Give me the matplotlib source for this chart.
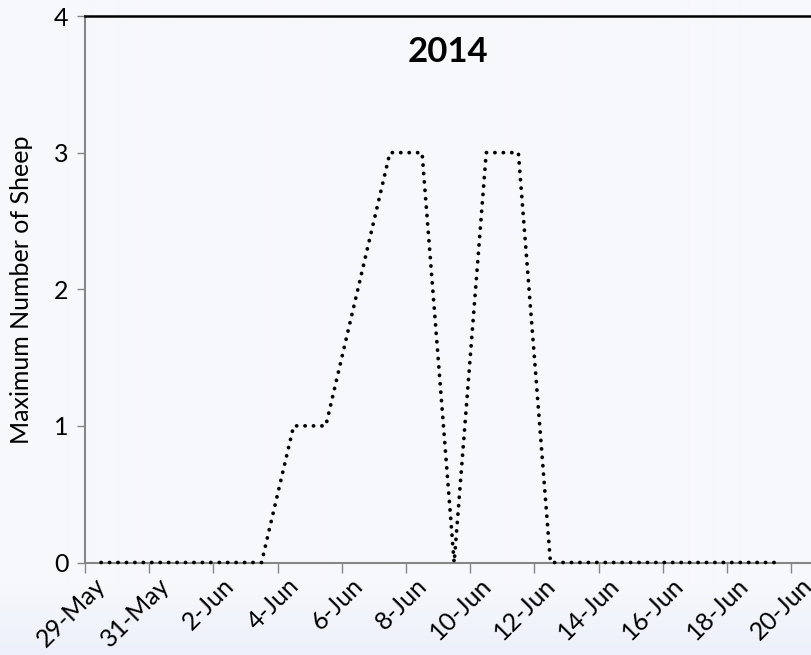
import matplotlib
matplotlib.use("Agg")
import matplotlib.pyplot as plt
import numpy as np
from matplotlib.colors import LinearSegmentedColormap
from matplotlib.transforms import ScaledTranslation

# Data
dates = ["29-May", "30-May", "31-May", "1-Jun", "2-Jun", "3-Jun", "4-Jun", "5-Jun",
         "6-Jun", "7-Jun", "8-Jun", "9-Jun", "10-Jun", "11-Jun", "12-Jun", "13-Jun",
         "14-Jun", "15-Jun", "16-Jun", "17-Jun", "18-Jun", "19-Jun"]
sheep = [0, 0, 0, 0, 0, 0, 1, 1, 2, 3, 3, 0, 3, 3, 0, 0, 0, 0, 0, 0, 0, 0]
tick_labels = ["29-May", "31-May", "2-Jun", "4-Jun", "6-Jun", "8-Jun", "10-Jun",
               "12-Jun", "14-Jun", "16-Jun", "18-Jun", "20-Jun"]
y_ticks = [0, 1, 2, 3, 4]
title = "2014"
ylabel = "Maximum Number of Sheep"

plt.rcParams['font.family'] = ['Lato', 'DejaVu Sans']

W, H = 811, 655
fig = plt.figure(figsize=(W / 100, H / 100), dpi=100)
fig.patch.set_facecolor("#F7F8FC")

# background gradient band at bottom
bg = fig.add_axes([0, 0, 1, 1], zorder=-10)
bg.axis("off")
grad = np.ones((H, 1))
ys = np.arange(H)
start = 585
grad[:, 0] = np.clip((ys - start) / (H - start), 0, 1)
cmap = LinearSegmentedColormap.from_list("g", ["#F7F8FC", "#ECF0FA"])
bg.imshow(grad, aspect="auto", cmap=cmap, extent=[0, 1, 0, 1], origin="upper",
          interpolation="bilinear")

left_px, bottom_px, top_px = 85, 562.5, 16
day_px = 32.1
x0, x1 = -0.5, 23.5
ax_w_px = (x1 - x0) * day_px
ax = fig.add_axes([left_px / W, (H - bottom_px) / H,
                   ax_w_px / W, (bottom_px - top_px) / H])
ax.set_facecolor("none")

x = np.arange(len(sheep))
ax.plot(x, sheep, color="black", linewidth=2.7, linestyle=(0, (0.05, 2.2)),
        dash_capstyle="round", solid_capstyle="round", clip_on=False, zorder=5)

ax.set_xlim(x0, x1)
ax.set_ylim(0, 4)

# tick marks at category boundaries every 2 days
ax.set_xticks(np.arange(-0.5, x1, 2))
ax.set_xticklabels([])
ax.set_xticks(np.arange(0, 2 * len(tick_labels), 2), minor=True)
ax.set_xticklabels(tick_labels, minor=True, rotation=45, ha="right",
                   rotation_mode="anchor", fontsize=18)
ax.tick_params(axis="x", which="major", length=7, width=1, color="#868686",
               direction="out")
ax.tick_params(axis="x", which="minor", length=0, pad=8)
shift = ScaledTranslation(-7 / 100, 0, fig.dpi_scale_trans)
for lbl in ax.get_xticklabels(minor=True):
    lbl.set_transform(lbl.get_transform() + shift)

ax.set_yticks(y_ticks)
ax.set_yticklabels([str(v) for v in y_ticks], fontsize=18)
ax.tick_params(axis="y", length=6, width=1, color="#868686", direction="out", pad=6)

for s in ["left", "bottom"]:
    ax.spines[s].set_color("#868686")
    ax.spines[s].set_linewidth(1.5)
ax.spines["right"].set_visible(False)
ax.spines["top"].set_color("black")
ax.spines["top"].set_linewidth(1.8)

ax.set_ylabel(ylabel, fontsize=18)
ax.yaxis.set_label_coords((33 - left_px) / ax_w_px, 0.5)

fig.text(448 / W, 1 - 52 / H, title, fontsize=25, fontweight="bold",
         ha="center", va="center")

fig.savefig("out.png", dpi=100, facecolor=fig.get_facecolor())
